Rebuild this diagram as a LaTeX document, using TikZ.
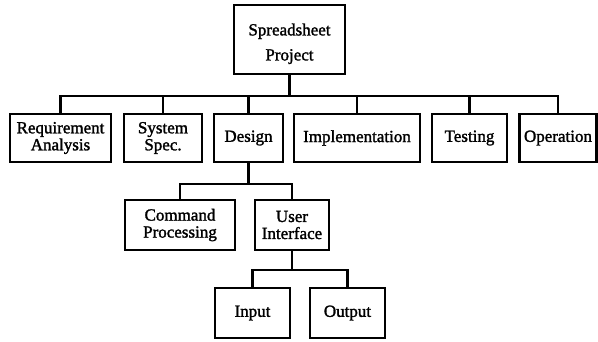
\documentclass[tikz,border=0pt]{standalone}
\usepackage{fontspec}
\setmainfont[FakeBold=1.6]{Liberation Serif}
\begin{document}
\begin{tikzpicture}[x=1pt,y=-1pt,
  box/.style={draw,line width=2.4pt,inner sep=0pt,align=center,
    font=\fontsize{17}{17}\selectfont},
  link/.style={line width=2.2pt}]
\useasboundingbox (0,0) rectangle (598,341);
% root, its two lines set a little low in the box
\node[box,minimum width=111,minimum height=69] (root) at (289.5,39.5)
  {\raisebox{-5pt}[\height][\depth]{\begin{tabular}{@{}c@{}}Spreadsheet\\[8pt]Project\end{tabular}}};
% first level
\node[box,minimum width=101,minimum height=48] (req)  at (60.5,138) {Requirement\\Analysis};
\node[box,minimum width=78,minimum height=48]  (sys)  at (163,138)  {System\\Spec.};
\node[box,minimum width=69,minimum height=48]  (des)  at (248.5,138) {Design};
\node[box,minimum width=126,minimum height=48] (impl) at (357,138)  {Implementation};
\node[box,minimum width=75,minimum height=48]  (test) at (469.5,138) {Testing};
\node[box,minimum width=77,minimum height=48]  (oper) at (558,138)  {Operation};
% design breakdown
\node[box,minimum width=110,minimum height=50] (cmd) at (180,225) {Command\\Processing};
\node[box,minimum width=74,minimum height=50]  (ui)  at (292,225) {User\\Interface};
% user interface breakdown
\node[box,minimum width=75,minimum height=50] (in)  at (252.5,313) {Input};
\node[box,minimum width=75,minimum height=50] (out) at (347.5,313) {Output};
% bus levels
\coordinate (b1) at (0,96);
\coordinate (b2) at (0,184);
\coordinate (b3) at (0,270);
\foreach \c in {req,sys,des,impl,test,oper}
  \draw[link] (root.south) -- (root.south |- b1) -| (\c.north);
\foreach \c in {cmd,ui}
  \draw[link] (des.south) -- (des.south |- b2) -| (\c.north);
\foreach \c in {in,out}
  \draw[link] (ui.south) -- (ui.south |- b3) -| (\c.north);
\end{tikzpicture}
\end{document}
